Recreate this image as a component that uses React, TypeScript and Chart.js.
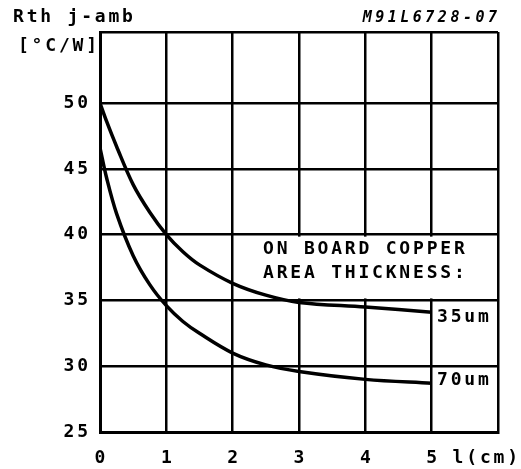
import React, { useEffect, useRef } from "react";
import { Chart, registerables } from "chart.js";

Chart.register(...registerables);

const lengthCm = [0, 0.1, 0.25, 0.5, 0.75, 1, 1.25, 1.5, 2, 2.5, 3, 4, 5];
const rth35um = [50, 48.6, 46.7, 43.8, 41.7, 40.0, 38.7, 37.7, 36.3, 35.4, 34.85, 34.5, 34.1];
const rth70um = [46.6, 44.3, 41.6, 38.4, 36.2, 34.6, 33.4, 32.5, 31.0, 30.1, 29.6, 29.0, 28.7];
const yTicks = [25, 30, 35, 40, 45, 50];
const xTicks = [0, 1, 2, 3, 4, 5];
const yMax = 55.4;
const xMax = 6;

const FONT = '"DejaVu Sans Mono", monospace';

function drawText(
  ctx: CanvasRenderingContext2D,
  text: string,
  x: number,
  y: number,
  align: "left" | "right" | "center",
  font: string,
  spacing: number
) {
  ctx.save();
  ctx.font = font;
  (ctx as any).letterSpacing = spacing + "px";
  ctx.textAlign = "left";
  ctx.textBaseline = "middle";
  ctx.fillStyle = "#000";
  const w = ctx.measureText(text).width - spacing;
  let sx = x;
  if (align === "right") sx = x - w;
  else if (align === "center") sx = x - w / 2;
  ctx.fillText(text, sx, y);
  ctx.restore();
}

const textPlugin = {
  id: "textPlugin",
  beforeDatasetsDraw(chart: any) {
    const { ctx, scales } = chart;
    const x = scales.x;
    const y = scales.y;
    const left = x.getPixelForValue(2) + 6;
    const right = x.getPixelForValue(xMax) - 2;
    const top = y.getPixelForValue(40) + 2;
    const bottom = y.getPixelForValue(35) - 2;
    ctx.save();
    ctx.fillStyle = "#fff";
    ctx.fillRect(left, top, right - left, bottom - top);
    ctx.restore();
  },
  afterDraw(chart: any) {
    const { ctx, scales } = chart;
    const x = scales.x;
    const y = scales.y;
    const f = `bold 18px ${FONT}`;
    const sp = 2.8;
    yTicks.forEach((v) => {
      drawText(ctx, String(v), 88, y.getPixelForValue(v), "right", f, sp);
    });
    xTicks.forEach((v) => {
      drawText(ctx, String(v), x.getPixelForValue(v), 458, "center", f, sp);
    });
    drawText(ctx, "l(cm)", 518, 458, "right", f, sp);
    drawText(ctx, "Rth j-amb", 13, 17, "left", f, sp);
    drawText(ctx, "[°C/W]", 97, 46, "right", f, sp);
    drawText(ctx, "M91L6728-07", 497, 18, "right", `italic bold 15px ${FONT}`, 3.5);
    drawText(ctx, "ON BOARD COPPER", 263, 249, "left", f, sp);
    drawText(ctx, "AREA THICKNESS:", 263, 273, "left", f, sp);
    drawText(ctx, "35um", 437, 317, "left", f, sp);
    drawText(ctx, "70um", 437, 380, "left", f, sp);
  },
};

export default function App() {
  const ref = useRef<HTMLCanvasElement | null>(null);
  useEffect(() => {
    if (!ref.current) return;
    const chart = new Chart(ref.current, {
      type: "line",
      data: {
        datasets: [
          {
            label: "35um",
            data: lengthCm.map((l, i) => ({ x: l, y: rth35um[i] })),
            borderColor: "#000",
            borderWidth: 3.5,
            pointRadius: 0,
            tension: 0.35,
            fill: false,
          },
          {
            label: "70um",
            data: lengthCm.map((l, i) => ({ x: l, y: rth70um[i] })),
            borderColor: "#000",
            borderWidth: 3.5,
            pointRadius: 0,
            tension: 0.35,
            fill: false,
          },
        ],
      },
      options: {
        responsive: false,
        animation: false,
        layout: { padding: { left: 100, right: 23, top: 32, bottom: 37 } },
        plugins: {
          legend: { display: false },
          tooltip: { enabled: false },
          title: { display: false },
        },
        scales: {
          x: {
            type: "linear",
            min: 0,
            max: xMax,
            ticks: { display: false, stepSize: 1 },
            afterBuildTicks: (s: any) => {
              s.ticks = [0, 1, 2, 3, 4, 5, 6].map((v) => ({ value: v }));
            },
            grid: { color: "#000", lineWidth: 2.5, drawTicks: false },
            border: { display: true, color: "#000", width: 3 },
          },
          y: {
            type: "linear",
            min: 25,
            max: yMax,
            ticks: { display: false },
            afterBuildTicks: (s: any) => {
              s.ticks = [...yTicks, yMax].map((v) => ({ value: v }));
            },
            grid: { color: "#000", lineWidth: 2.5, drawTicks: false },
            border: { display: true, color: "#000", width: 3 },
          },
        },
      } as any,
      plugins: [textPlugin],
    });
    return () => chart.destroy();
  }, []);
  return (
    <div style={{ position: "fixed", left: 0, top: 0, width: 521, height: 469, background: "#fff" }}>
      <canvas ref={ref} width={521} height={469} style={{ width: 521, height: 469 }} />
    </div>
  );
}
